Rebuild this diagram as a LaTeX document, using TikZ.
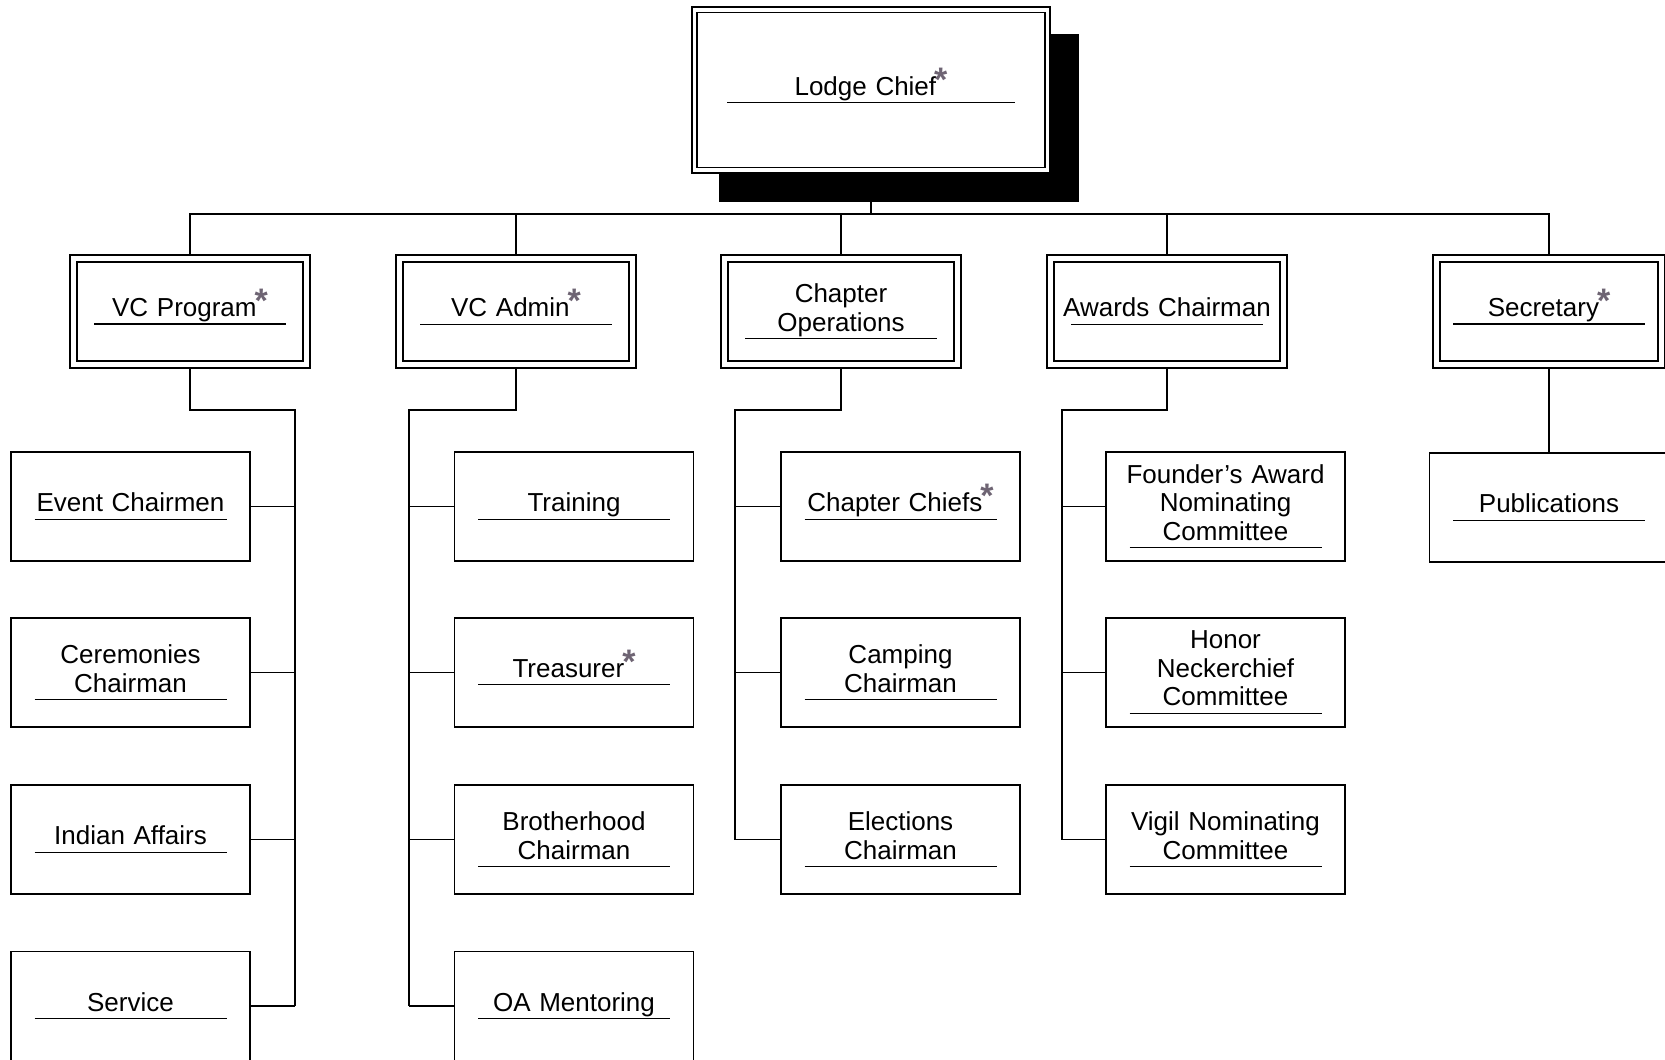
\documentclass[tikz,border=0pt]{standalone}
\usepackage{fontspec}
\setmainfont{Liberation Sans}
\usetikzlibrary{positioning,backgrounds}
\definecolor{stargray}{RGB}{110,100,115}
\newcommand{\ystar}{\kern-1pt\smash{\raisebox{2pt}{\fontsize{17}{17}\selectfont\bfseries\textcolor{stargray}{*}}}}

\begin{document}
\begin{tikzpicture}[x=0.5pt, y=-0.5pt,
  dbl/.style={draw=black, line width=0.8pt, double, fill=white, inner sep=0pt,
    align=center, font=\fontsize{13}{14.25}\selectfont},
  ruled/.style={execute at end node={\\[-10.25pt]\rule{#1}{0.6pt}}},
  ruled/.default=96pt,
  head/.style={dbl, ruled=144pt, double distance=1.95pt, outer sep=1.8pt,
    minimum width=176.5pt, minimum height=80.25pt, text width=150pt},
  officer/.style={dbl, ruled, double distance=2.7pt, outer sep=2.15pt,
    minimum width=116.5pt, minimum height=53.25pt, text width=112pt},
  unit/.style={draw=black, line width=0.8pt, ruled, inner sep=0pt, outer sep=0.4pt,
    minimum width=119.5pt, minimum height=54.5pt, text width=112pt, align=center,
    font=\fontsize{13}{14.25}\selectfont},
  link/.style={draw=black, line width=0.8pt}
]
\useasboundingbox (0,0) rectangle (1665,1060);

% top
\node[head] (chief) at (871,90) {Lodge Chief\ystar};
\begin{scope}[on background layer]
  \fill[black] ([shift={(14pt,-14pt)}]chief.south west) rectangle ([shift={(14pt,-14pt)}]chief.north east);
\end{scope}

% officers
\foreach \n/\x/\txt in {prog/190/{VC Program\ystar}, admin/516/{VC Admin\ystar},
    ops/841/{Chapter\\Operations}, awards/1167/{Awards Chairman}}
  \node[officer] (\n) at (\x,311.5) {\txt};
\node[officer, minimum width=112.5pt] (sec) at (1549,311.5) {Secretary\ystar};

% chairmen
\foreach \n/\y/\txt in {events/506.5/{Event Chairmen}, ceremonies/672.5/{Ceremonies\\Chairman},
    indian/839.5/{Indian Affairs}, service/1006/{Service}}
  \node[unit] (\n) at (130.5,\y) {\txt};
\foreach \n/\y/\txt in {training/506.5/{Training}, treasurer/672.5/{Treasurer\ystar},
    brotherhood/839.5/{Brotherhood\\Chairman}, mentoring/1006/{OA Mentoring}}
  \node[unit] (\n) at (574,\y) {\txt};
\foreach \n/\y/\txt in {chiefs/506.5/{Chapter Chiefs\ystar}, camping/672.5/{Camping\\Chairman},
    elections/839.5/{Elections\\Chairman}}
  \node[unit] (\n) at (900.5,\y) {\txt};
\foreach \n/\y/\txt in {founders/506.5/{Founder's Award\\Nominating\\Committee},
    neckerchief/672.5/{Honor\\Neckerchief\\Committee}, vigil/839.5/{Vigil Nominating\\Committee}}
  \node[unit] (\n) at (1225.5,\y) {\txt};
\node[unit, below=41.6pt of sec] (publications) {Publications};

% lines
\coordinate (bus) at (871,214);
\draw[link] ([yshift=-14pt]chief.south) -- (bus);
\foreach \n in {prog,admin,ops,awards,sec}
  \draw[link] (bus) -| (\n.north);

\draw[link] (prog.south) -- ++(0,41) -| ([xshift=22pt]service.east);
\foreach \n in {events,ceremonies,indian,service}
  \draw[link] (\n.east) -- ++(22pt,0);
\draw[link] (admin.south) -- ++(0,41) -| ([xshift=-22.5pt]mentoring.west);
\foreach \n in {training,treasurer,brotherhood,mentoring}
  \draw[link] (\n.west) -- ++(-22.5pt,0);
\draw[link] (ops.south) -- ++(0,41) -| ([xshift=-22.5pt]elections.west);
\foreach \n in {chiefs,camping,elections}
  \draw[link] (\n.west) -- ++(-22.5pt,0);
\draw[link] (awards.south) -- ++(0,41) -| ([xshift=-21.5pt]vigil.west);
\foreach \n in {founders,neckerchief,vigil}
  \draw[link] (\n.west) -- ++(-21.5pt,0);
\draw[link] (sec) -- (publications);
\end{tikzpicture}
\end{document}
